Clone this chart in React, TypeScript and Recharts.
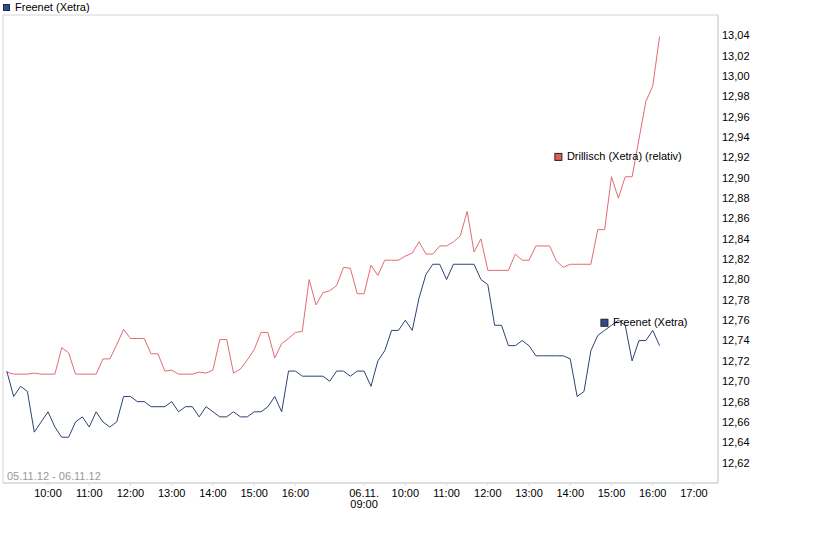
import React from 'react';
import { LineChart, Line, XAxis, YAxis, ReferenceArea, ReferenceDot } from 'recharts';

// Freenet (Xetra), 10-minute points: 05.11.12 09:00-17:30, then 06.11.12 from 09:00
const freenet = [
  12.71, 12.685, 12.695, 12.69, 12.65, 12.66, 12.67, 12.655, 12.645, 12.645,
  12.66, 12.665, 12.655, 12.67, 12.66, 12.655, 12.66, 12.685, 12.685, 12.68,
  12.68, 12.675, 12.675, 12.675, 12.68, 12.67, 12.675, 12.675, 12.665, 12.675,
  12.67, 12.665, 12.665, 12.67, 12.665, 12.665, 12.67, 12.67, 12.675, 12.685,
  12.67, 12.71, 12.71, 12.705, 12.705, 12.705, 12.705, 12.7, 12.71, 12.71,
  12.705, 12.71, 12.71, 12.695, 12.72, 12.73, 12.75, 12.75, 12.76, 12.75,
  12.782, 12.805, 12.815, 12.815, 12.8, 12.815, 12.815, 12.815, 12.815, 12.8,
  12.795, 12.755, 12.755, 12.735, 12.735, 12.74, 12.735, 12.725, 12.725, 12.725,
  12.725, 12.725, 12.722, 12.685, 12.69, 12.73, 12.745, 12.75, 12.755, 12.76,
  12.755, 12.72, 12.74, 12.74, 12.75, 12.735,
];

// Drillisch (Xetra) (relativ)
const drillisch = [
  12.709, 12.707, 12.707, 12.707, 12.708, 12.707, 12.707, 12.707, 12.733, 12.728,
  12.707, 12.707, 12.707, 12.707, 12.722, 12.722, 12.736, 12.751, 12.742, 12.742,
  12.742, 12.727, 12.727, 12.71, 12.711, 12.707, 12.707, 12.707, 12.709, 12.708,
  12.711, 12.741, 12.741, 12.708, 12.712, 12.721, 12.731, 12.748, 12.748, 12.723,
  12.737, 12.742, 12.748, 12.749, 12.8, 12.775, 12.787, 12.789, 12.794, 12.812,
  12.811, 12.786, 12.786, 12.814, 12.804, 12.819, 12.819, 12.819, 12.823, 12.826,
  12.837, 12.825, 12.825, 12.833, 12.833, 12.837, 12.843, 12.867, 12.827, 12.84,
  12.809, 12.809, 12.809, 12.809, 12.825, 12.819, 12.819, 12.833, 12.833, 12.833,
  12.818, 12.812, 12.815, 12.815, 12.815, 12.815, 12.849, 12.849, 12.901, 12.88,
  12.901, 12.901, 12.938, 12.975, 12.99, 13.039,
];

const tickIdx = [6, 12, 18, 24, 30, 36, 42, 52, 58, 64, 70, 76, 82, 88, 94, 100];
const tickLabels = [
  '10:00', '11:00', '12:00', '13:00', '14:00', '15:00', '16:00', '06.11.\n09:00',
  '10:00', '11:00', '12:00', '13:00', '14:00', '15:00', '16:00', '17:00',
];
const yTicks = [
  12.62, 12.64, 12.66, 12.68, 12.7, 12.72, 12.74, 12.76, 12.78, 12.8, 12.82,
  12.84, 12.86, 12.88, 12.9, 12.92, 12.94, 12.96, 12.98, 13.0, 13.02, 13.04,
];
const xDomain = [-0.55, 103.5];
const yDomain = [12.6, 13.06];

const freenetName = 'Freenet (Xetra)';
const drillischName = 'Drillisch (Xetra) (relativ)';
const dateRange = '05.11.12 - 06.11.12';
const drillischLabelAt = { i: 80.2, v: 12.921 };
const freenetLabelAt = { i: 86.9, v: 12.758 };

const FONT = '"Liberation Sans", Arial, sans-serif';
const BLUE = '#2d4373';
const RED = '#e46a74';
const BLUE_BOX = '#2e4d8a';
const RED_BOX = '#e85a5a';

const data = freenet.map((f, i) => ({ i, freenet: f, drillisch: drillisch[i] }));

const XTick = (props: any) => {
  const { x, y, payload } = props;
  const k = tickIdx.indexOf(payload.value);
  const lines = (k >= 0 ? tickLabels[k] : '').split('\n');
  return (
    <g>
      {lines.map((t, j) => (
        <text key={j} x={x} y={y + 9 + j * 11} textAnchor="middle" fontSize={11} fontFamily={FONT} fill="#000">
          {t}
        </text>
      ))}
    </g>
  );
};

const makeLabelShape = (name: string, fill: string) => (props: any) => {
  const { cx, cy } = props;
  return (
    <g>
      <rect x={cx - 3} y={cy - 3} width={7} height={7} fill={fill} stroke="#222" strokeWidth={1} />
      <text x={cx + 9} y={cy} dy="0.36em" fontSize={11} fontFamily={FONT} fill="#000">
        {name}
      </text>
    </g>
  );
};

export default function App() {
  return (
    <div style={{ position: 'absolute', left: 0, top: 0, width: 816, height: 556, background: '#fff', fontFamily: FONT }}>
      <LineChart width={816} height={556} data={data} margin={{ top: 15, left: 3, right: 0, bottom: 0 }}>
        <ReferenceArea
          x1={xDomain[0]}
          x2={xDomain[1]}
          y1={yDomain[0]}
          y2={yDomain[1]}
          fill="none"
          stroke="#d4d4d4"
          ifOverflow="visible"
        />
        <XAxis
          dataKey="i"
          type="number"
          domain={xDomain}
          ticks={tickIdx}
          interval={0}
          allowDataOverflow
          height={73}
          axisLine={{ stroke: '#d4d4d4' }}
          tickLine={{ stroke: '#dddddd' }}
          tickSize={3}
          tickMargin={2}
          tick={<XTick />}
        />
        <YAxis
          orientation="right"
          type="number"
          domain={yDomain}
          ticks={yTicks}
          interval={0}
          allowDataOverflow
          width={98}
          axisLine={{ stroke: '#d4d4d4' }}
          tickLine={false}
          tickSize={0}
          tickMargin={4}
          tick={{ fontSize: 11, fill: '#000', fontFamily: FONT, textAnchor: 'start' }}
          tickFormatter={(v: number) => v.toFixed(2).replace('.', ',')}
        />
        <Line type="linear" dataKey="drillisch" stroke={RED} strokeWidth={1} dot={false} isAnimationActive={false} />
        <Line type="linear" dataKey="freenet" stroke={BLUE} strokeWidth={1} dot={false} isAnimationActive={false} />
        <ReferenceDot
          x={drillischLabelAt.i}
          y={drillischLabelAt.v}
          r={4}
          shape={makeLabelShape(drillischName, RED_BOX)}
        />
        <ReferenceDot
          x={freenetLabelAt.i}
          y={freenetLabelAt.v}
          r={4}
          shape={makeLabelShape(freenetName, BLUE_BOX)}
        />
      </LineChart>
      <div style={{ position: 'absolute', left: 3, top: 3, display: 'flex', alignItems: 'center', height: 8 }}>
        <span style={{ display: 'inline-block', width: 5, height: 5, background: BLUE_BOX, border: '1px solid #1a2a50' }} />
        <span style={{ marginLeft: 5, fontSize: 11, color: '#000', whiteSpace: 'nowrap', lineHeight: '8px' }}>{freenetName}</span>
      </div>
      <div style={{ position: 'absolute', left: 7, top: 470, fontSize: 11, color: '#999', whiteSpace: 'nowrap', lineHeight: '12px' }}>
        {dateRange}
      </div>
    </div>
  );
}
